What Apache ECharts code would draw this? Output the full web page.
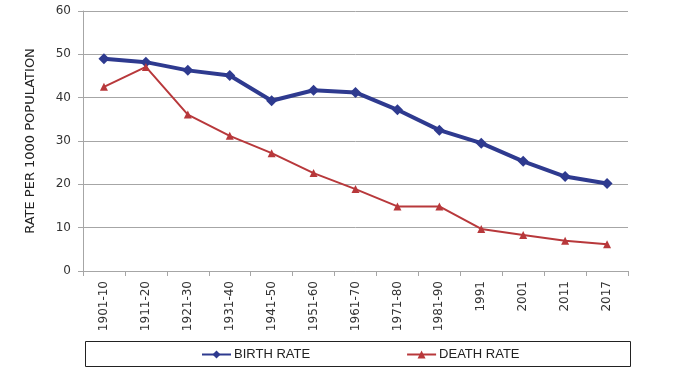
<!DOCTYPE html>
<html><head><meta charset="utf-8">
<script src="https://cdn.jsdelivr.net/npm/echarts@6/dist/echarts.min.js"></script>
<style>html,body{margin:0;padding:0;background:#fff}#c{width:691px;height:370px}</style>
</head><body><div id="c"></div>
<script>
const categories = ['1901-10','1911-20','1921-30','1931-40','1941-50','1951-60','1961-70','1971-80','1981-90','1991','2001','2011','2017'];
const birthRate = [49.0, 48.2, 46.3, 45.1, 39.3, 41.7, 41.2, 37.2, 32.5, 29.5, 25.3, 21.8, 20.2];
const deathRate = [42.5, 47.1, 36.1, 31.2, 27.2, 22.6, 18.9, 14.9, 14.9, 9.7, 8.3, 7.0, 6.2];
const yTicks = {min: 0, max: 60, interval: 10};
const FONT = '"DejaVu Sans", sans-serif';
const chart = echarts.init(document.getElementById('c'), null, {renderer: 'canvas'});
chart.setOption({
  animation: false,
  textStyle: {fontFamily: FONT},
  grid: {left: 83, right: 63, top: 11, bottom: 99},
  xAxis: {
    type: 'category', data: categories, boundaryGap: true,
    axisLine: {show: true, lineStyle: {color: '#a6a6a6'}},
    axisTick: {show: true, length: 5, lineStyle: {color: '#a6a6a6'}},
    axisLabel: {rotate: 90, color: '#333', fontSize: 12, margin: 10, fontFamily: FONT}
  },
  yAxis: {
    type: 'value', min: yTicks.min, max: yTicks.max, interval: yTicks.interval,
    name: 'RATE PER 1000 POPULATION', nameLocation: 'middle', nameGap: 46, nameRotate: 90,
    nameTextStyle: {color: '#222', fontSize: 13, fontFamily: FONT},
    axisLine: {show: true, lineStyle: {color: '#a6a6a6'}},
    axisTick: {show: true, length: 5, lineStyle: {color: '#a6a6a6'}},
    axisLabel: {color: '#333', fontSize: 12, margin: 12, fontFamily: FONT},
    splitLine: {show: true, lineStyle: {color: '#a6a6a6', width: 1}}
  },
  legend: {
    top: 343, left: 196,
    itemWidth: 29, itemHeight: 10, itemGap: 96,
    textStyle: {color: '#222', fontSize: 13, fontFamily: '"Liberation Sans", sans-serif', padding: [0,0,0,-2]},
    data: ['BIRTH RATE', 'DEATH RATE']
  },
  graphic: [{
    type: 'rect', left: 83, top: 339,
    shape: {width: 545, height: 25},
    style: {fill: 'none', stroke: '#222', lineWidth: 1}, silent: true
  }],
  series: [
    {name: 'BIRTH RATE', type: 'line', data: birthRate,
     symbol: 'diamond', symbolSize: 11,
     lineStyle: {color: '#2e3a8f', width: 4}, itemStyle: {color: '#2e3a8f'}},
    {name: 'DEATH RATE', type: 'line', data: deathRate,
     symbol: 'triangle', symbolSize: 8,
     lineStyle: {color: '#b8383b', width: 2}, itemStyle: {color: '#b8383b'}}
  ]
});
</script></body></html>
